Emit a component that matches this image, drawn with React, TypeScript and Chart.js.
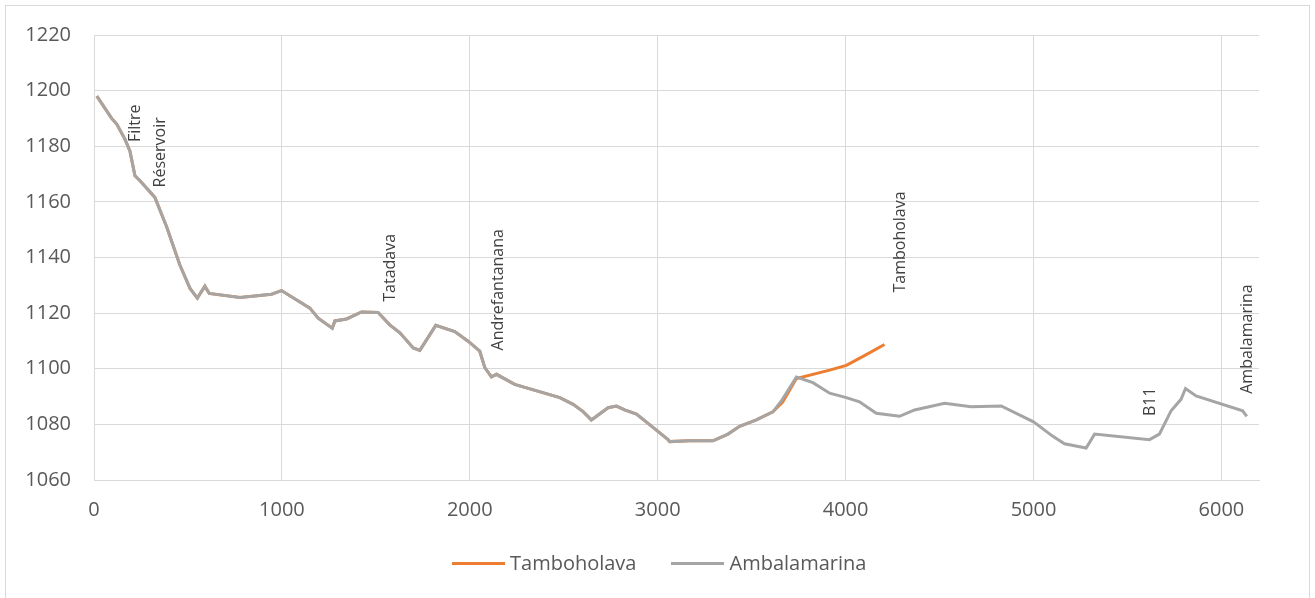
import React, { useEffect, useRef } from "react";
import { Chart, registerables } from "chart.js";

Chart.register(...registerables);

// Distance (m) and altitude (m) along the Ambalamarina branch
const ambalamarinaDist = [
  15, 94, 121, 165, 191, 218, 245, 324, 387, 420, 457, 511, 550, 590, 613, 777, 945, 998,
  1149, 1193, 1268, 1282, 1344, 1424, 1512, 1574, 1628, 1699, 1734, 1819, 1920, 1991,
  2053, 2080, 2115, 2142, 2239, 2479, 2550, 2603, 2647, 2736, 2780, 2824, 2887, 2975,
  3055, 3064, 3170, 3294, 3374, 3436, 3525, 3613, 3658, 3738, 3826, 3915, 4004, 4074,
  4163, 4287, 4367, 4527, 4668, 4828, 5000, 5103, 5165, 5280, 5325, 5617, 5670, 5732,
  5785, 5809, 5865, 6113, 6135,
];
const ambalamarinaAlt = [
  1198, 1190, 1188, 1182.5, 1178.3, 1169.4, 1167.6, 1161.6, 1151, 1144.5, 1137.3, 1128.9,
  1125.4, 1129.7, 1127.1, 1125.6, 1126.8, 1128.1, 1121.8, 1118.2, 1114.6, 1117.2, 1117.9,
  1120.4, 1120.2, 1115.8, 1112.9, 1107.5, 1106.6, 1115.6, 1113.4, 1109.9, 1106.3, 1100.4,
  1097.1, 1098, 1094.4, 1089.6, 1087.2, 1084.6, 1081.6, 1086, 1086.6, 1085.2, 1083.7,
  1078.9, 1074.5, 1073.8, 1074.1, 1074.1, 1076.5, 1079.3, 1081.6, 1084.5, 1088.4, 1097,
  1095, 1091.2, 1089.6, 1088.1, 1084, 1082.9, 1085.2, 1087.6, 1086.3, 1086.6, 1080.9,
  1075.7, 1073, 1071.5, 1076.5, 1074.5, 1076.5, 1084.9, 1089, 1092.9, 1090.2, 1084.9, 1082.9,
];

// Distance (m) and altitude (m) along the Tamboholava branch
const tamboholavaDist = [
  15, 94, 121, 165, 191, 218, 245, 324, 387, 420, 457, 511, 550, 590, 613, 777, 945, 998,
  1149, 1193, 1268, 1282, 1344, 1424, 1512, 1574, 1628, 1699, 1734, 1819, 1920, 1991,
  2053, 2080, 2115, 2142, 2239, 2479, 2550, 2603, 2647, 2736, 2780, 2824, 2887, 2975,
  3055, 3064, 3170, 3294, 3374, 3436, 3525, 3613, 3665, 3738, 3915, 4004, 4110, 4207,
];
const tamboholavaAlt = [
  1198, 1190, 1188, 1182.5, 1178.3, 1169.4, 1167.6, 1161.6, 1151, 1144.5, 1137.3, 1128.9,
  1125.4, 1129.7, 1127.1, 1125.6, 1126.8, 1128.1, 1121.8, 1118.2, 1114.6, 1117.2, 1117.9,
  1120.4, 1120.2, 1115.8, 1112.9, 1107.5, 1106.6, 1115.6, 1113.4, 1109.9, 1106.3, 1100.4,
  1097.1, 1098, 1094.4, 1089.6, 1087.2, 1084.6, 1081.6, 1086, 1086.6, 1085.2, 1083.7,
  1078.9, 1074.5, 1073.8, 1074.1, 1074.1, 1076.5, 1079.3, 1081.6, 1084.5, 1088, 1096.5,
  1099.5, 1101.2, 1105.1, 1108.7,
];

// Point names (vertical labels)
const placeNames = ["Filtre", "Réservoir", "Tatadava", "Andrefantanana", "Tamboholava", "B11", "Ambalamarina"];
const placeDist = [218, 355, 1580, 2154, 4293, 5621, 6140];
const placeAlt = [1181.5, 1165.2, 1124.1, 1106.6, 1127.4, 1083, 1091];

// Axis ticks
const xTicks = [0, 1000, 2000, 3000, 4000, 5000, 6000];
const yTicks = [1060, 1080, 1100, 1120, 1140, 1160, 1180, 1200, 1220];

const seriesNames = ["Tamboholava", "Ambalamarina"];
const seriesColors = ["#ED7D31", "#A5A5A5"];

const FONT = "'Open Sans', 'Noto Sans', sans-serif";

const placeLabelsPlugin = {
  id: "placeLabels",
  afterDatasetsDraw(chart: any) {
    const { ctx, scales } = chart;
    ctx.save();
    ctx.font = `16px ${FONT}`;
    ctx.fillStyle = "#404040";
    ctx.textAlign = "left";
    ctx.textBaseline = "middle";
    placeNames.forEach((name, i) => {
      const px = scales.x.getPixelForValue(placeDist[i]);
      const py = scales.y.getPixelForValue(placeAlt[i]);
      ctx.save();
      ctx.translate(px, py);
      ctx.rotate(-Math.PI / 2);
      ctx.fillText(name, 0, 0);
      ctx.restore();
    });
    ctx.restore();
  },
};

export default function App() {
  const canvasRef = useRef<HTMLCanvasElement | null>(null);

  useEffect(() => {
    if (!canvasRef.current) return;
    const toPts = (xs: number[], ys: number[]) => xs.map((x, i) => ({ x, y: ys[i] }));
    const chart = new Chart(canvasRef.current, {
      type: "line",
      data: {
        datasets: [
          {
            label: seriesNames[0],
            data: toPts(tamboholavaDist, tamboholavaAlt),
            borderColor: seriesColors[0],
            backgroundColor: seriesColors[0],
            borderWidth: 3,
            pointRadius: 0,
            tension: 0,
            order: 1,
          },
          {
            label: seriesNames[1],
            data: toPts(ambalamarinaDist, ambalamarinaAlt),
            borderColor: seriesColors[1],
            backgroundColor: seriesColors[1],
            borderWidth: 3,
            pointRadius: 0,
            tension: 0,
            order: 0,
          },
        ],
      },
      options: {
        animation: false,
        responsive: false,
        layout: { padding: { top: 33, right: 56, left: 0, bottom: 0 } },
        plugins: {
          legend: { display: false },
          tooltip: { enabled: false },
        },
        scales: {
          x: {
            type: "linear",
            min: 0,
            max: 6200,
            afterBuildTicks: (s: any) => {
              s.ticks = xTicks.map((v) => ({ value: v }));
            },
            afterFit: (s: any) => {
              s.height = 118;
            },
            ticks: {
              padding: 18,
              color: "#595959",
              font: { family: FONT, size: 20 },
              maxRotation: 0,
              autoSkip: false,
              callback: (v: any) => String(v),
            },
            grid: { color: "#D9D9D9", lineWidth: 1, drawTicks: false },
            border: { color: "#D9D9D9", width: 1 },
          },
          y: {
            type: "linear",
            min: 1060,
            max: 1220,
            afterBuildTicks: (s: any) => {
              s.ticks = yTicks.map((v) => ({ value: v }));
            },
            afterFit: (s: any) => {
              s.width = 94;
            },
            ticks: {
              padding: 23,
              color: "#595959",
              font: { family: FONT, size: 20 },
              autoSkip: false,
              callback: (v: any) => String(v),
            },
            grid: { color: "#D9D9D9", lineWidth: 1, drawTicks: false },
            border: { color: "#D9D9D9", width: 1 },
          },
        },
      },
      plugins: [placeLabelsPlugin],
    } as any);
    return () => chart.destroy();
  }, []);

  const legendItem = (i: number) => (
    <div key={i} style={{ display: "flex", alignItems: "center", marginRight: i === 0 ? 35 : 0 }}>
      <div style={{ width: 53, height: 3, background: seriesColors[i], marginRight: 5 }} />
      <span style={{ fontFamily: FONT, fontSize: 20, color: "#595959", lineHeight: "24px" }}>
        {seriesNames[i]}
      </span>
    </div>
  );

  return (
    <div style={{ position: "absolute", left: 0, top: 0, width: 1315, height: 598, overflow: "hidden", background: "#fff" }}>
      <div
        style={{
          position: "absolute",
          left: 5,
          top: 5,
          width: 1305,
          height: 600,
          border: "1px solid #D9D9D9",
          boxSizing: "border-box",
        }}
      />
      <canvas ref={canvasRef} width={1315} height={598} style={{ position: "absolute", left: 0, top: 0 }} />
      <div style={{ position: "absolute", left: 452, top: 551, display: "flex", alignItems: "center" }}>
        {legendItem(0)}
        {legendItem(1)}
      </div>
    </div>
  );
}
